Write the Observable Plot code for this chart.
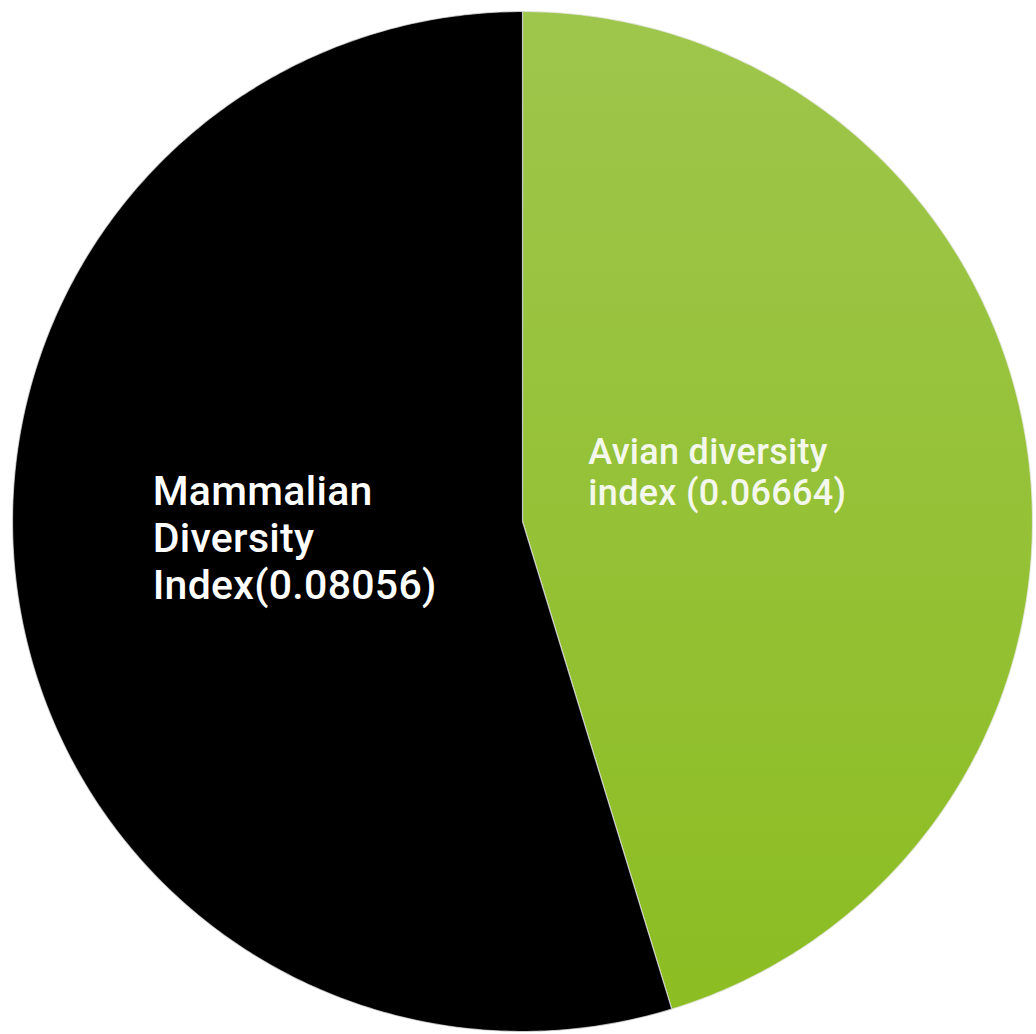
<!DOCTYPE html>
<html><head><meta charset="utf-8">
<script src="https://cdn.jsdelivr.net/npm/d3@7"></script>
<script src="https://cdn.jsdelivr.net/npm/@observablehq/plot@0.6"></script>
<style>body{margin:0;background:#fff;} svg{display:block;} text{letter-spacing:0.3px;}</style>
</head><body><div id="chart"></div>
<script>
const categories = ["Avian diversity index", "Mammalian Diversity Index"];
const values = [0.06664, 0.08056];
const labels = ["Avian diversity\nindex (0.06664)", "Mammalian\nDiversity\nIndex(0.08056)"];
const colors = ["url(#avianGrad)", "#000000"];

const total = d3.sum(values);
let acc = 0;
const slices = categories.map((c, i) => {
  const a0 = acc / total * 2 * Math.PI;
  acc += values[i];
  const a1 = acc / total * 2 * Math.PI;
  return {category: c, value: values[i], label: labels[i], color: colors[i], a0, a1, mid: (a0 + a1) / 2};
});
const pts = [];
for (const s of slices) {
  pts.push({category: s.category, x: 0, y: 0});
  const n = Math.ceil((s.a1 - s.a0) / (Math.PI / 360));
  for (let k = 0; k <= n; k++) {
    const a = s.a0 + (s.a1 - s.a0) * k / n;
    pts.push({category: s.category, x: Math.sin(a), y: Math.cos(a)});
  }
}
const lr = 0.42;
const lab = slices.map(s => ({label: s.label, x: lr * Math.sin(s.mid), y: lr * Math.cos(s.mid)}));

const plot = Plot.plot({
  width: 1036, height: 1034, margin: 0,
  x: {domain: [-1, 1], range: [12, 1032], axis: null},
  y: {domain: [-1, 1], range: [1031, 11], axis: null},
  marks: [
    Plot.line(pts, {x: "x", y: "y", z: "category", curve: "linear-closed",
      fill: d => slices.find(s => s.category === d.category).color,
      stroke: "#e8e8e8", strokeWidth: 1.2, strokeOpacity: 0.7}),
    Plot.text([lab[0]], {x: "x", y: "y", text: "label", textAnchor: "start", lineAnchor: "middle",
      dx: -146, dy: -18, fill: "#f4f8ec", fontSize: 36, fontWeight: 500, lineHeight: 1.14, fontFamily: "Roboto"}),
    Plot.text([lab[1]], {x: "x", y: "y", text: "label", textAnchor: "start", lineAnchor: "middle",
      dx: -158, dy: -16, fill: "white", fontSize: 41, fontWeight: 500, lineHeight: 1.15, fontFamily: "Roboto"})
  ]
});
const ns = "http://www.w3.org/2000/svg";
const defs = document.createElementNS(ns, "defs");
defs.innerHTML = '<linearGradient id="avianGrad" x1="0" y1="0" x2="0" y2="1" gradientUnits="objectBoundingBox">' +
  '<stop offset="0" stop-color="#9ec64c"/><stop offset="1" stop-color="#8cbd22"/></linearGradient>';
plot.insertBefore(defs, plot.firstChild);
document.getElementById("chart").appendChild(plot);
</script></body></html>
